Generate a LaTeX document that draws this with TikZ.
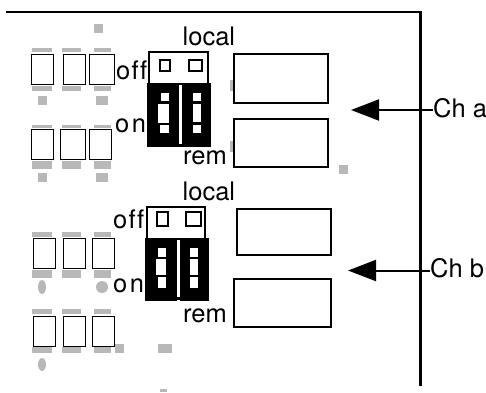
\documentclass[tikz,border=0pt]{standalone}
\usepackage{fontspec}
\setmainfont{TeX Gyre Heros}
\usetikzlibrary{arrows.meta}
\definecolor{padgray}{gray}{0.72}
\tikzset{
  lbl/.style={anchor=base west,inner sep=0pt,font=\fontsize{25.5}{29}\selectfont},
  keybox/.style={draw=black,line width=1pt,fill=white},
  bigbox/.style={draw=black,line width=2pt},
  pad/.style={fill=padgray},
  chanarrow/.style={line width=2pt,-{Triangle[length=28pt,width=21pt]}}
}
\begin{document}
\begin{tikzpicture}[x=1pt,y=-1pt]
  \useasboundingbox (0,0) rectangle (486,392);

  % case outline
  \draw[line width=2.5pt,line join=miter] (6,12) -- (420.5,12) -- (420.5,386);

  % gray pads, channel a
  \fill[pad] (94,24) rectangle (103,33);
  \foreach \xa/\xb in {32/52,62/81,94/111} {
    \fill[pad] (\xa,48) rectangle (\xb,52);
    \fill[pad] (\xa,86) rectangle (\xb,91);
    \fill[pad] (\xa,125) rectangle (\xb,128);
    \fill[pad] (\xa,161) rectangle (\xb,169);
  }
  \foreach \y in {96,173} {
    \fill[pad] (38,\y) rectangle (47,\y+9);
    \fill[pad] (96,\y) rectangle (108,\y+9);
  }
  \fill[pad] (230,80) rectangle (233,91);
  \fill[pad] (230,141) rectangle (233,152);
  \fill[pad] (339,165) rectangle (348,174);

  % gray pads, channel b
  \foreach \xa/\xb in {32/52,62/81,94/111} {
    \fill[pad] (\xa,232) rectangle (\xb,237);
    \fill[pad] (\xa,270) rectangle (\xb,278);
    \fill[pad] (\xa,309) rectangle (\xb,314);
    \fill[pad] (\xa,347) rectangle (\xb,353);
  }
  \fill[pad] (42,287) ellipse (4 and 7);
  \fill[pad] (102,287) circle (6);
  \fill[pad] (42,364.5) ellipse (4 and 6.5);
  \fill[pad] (115,344) rectangle (124,353);
  \fill[pad] (158,344) rectangle (172,353);
  \fill[pad] (160,389) rectangle (167,392);

  % key boxes
  \draw[keybox] (31,54) rectangle (53,84);
  \draw[keybox] (63,54) rectangle (85,84);
  \draw[keybox] (89.5,54) rectangle (114.5,84);
  \draw[keybox] (31,129) rectangle (53,159);
  \draw[keybox] (60.5,129) rectangle (85,159);
  \draw[keybox] (89.5,129) rectangle (111.5,159);
  \foreach \y in {238,316} {
    \draw[keybox] (33.5,\y) rectangle (55.5,\y+30);
    \draw[keybox] (63.5,\y) rectangle (85,\y+30);
    \draw[keybox] (92.5,\y) rectangle (114.5,\y+30);
  }

  % big boxes
  \draw[bigbox] (233.5,54) rectangle (328,102.5);
  \draw[bigbox] (233.5,118.5) rectangle (328,166.5);
  \draw[bigbox] (236.5,208.5) rectangle (331,255);
  \draw[bigbox] (233.5,278.5) rectangle (331,327);

  % switch a
  \draw[line width=2pt] (148.5,52) rectangle (207.5,84);
  \draw[line width=2pt] (160,60) rectangle (170,70.5);
  \draw[line width=2pt] (189,60) rectangle (202,70.5);
  \fill (147,83) rectangle (179,146.5);
  \fill (182,83) rectangle (211,146.5);
  \fill (179,144) rectangle (182,146.5);
  \fill[white] (161,93) rectangle (169,101);
  \fill[white] (158,104) rectangle (169,123);
  \fill[white] (160,125) rectangle (169,133);
  \fill[white] (193,93) rectangle (201,101);
  \fill[white] (193,104) rectangle (201,122);
  \fill[white] (193,125) rectangle (201,133);

  % switch b
  \draw[line width=2pt] (146.5,207) rectangle (205,239);
  \draw[line width=2pt] (157,212) rectangle (167.5,225.5);
  \draw[line width=2pt] (186,212) rectangle (200.5,225.5);
  \fill (145,238) rectangle (177,301);
  \fill (180,238) rectangle (209,301);
  \fill (177,297) rectangle (180,299.5);
  \fill[white] (158,248) rectangle (166,257);
  \fill[white] (156,259) rectangle (166,275);
  \fill[white] (158,277) rectangle (166,288);
  \fill[white] (190,248) rectangle (198,257);
  \fill[white] (190,259) rectangle (198,275);
  \fill[white] (190,277) rectangle (198,288);

  % labels
  \node[lbl] (locala) at (182.5,45) {local};
  \node[lbl] (offa) at (116,79) {o\kern1.3pt f\kern1.3pt f};
  \node[lbl] (ona) at (115,132) {o\kern2.6pt n};
  \node[lbl] (rema) at (183,164) {rem};
  \node[lbl] (localb) at (182.5,200) {local};
  \node[lbl] (offb) at (113,228) {o\kern1.3pt f\kern1.3pt f};
  \node[lbl] (onb) at (113,292) {o\kern2.6pt n};
  \node[lbl] (remb) at (183,322) {rem};

  % channel arrows
  \node[lbl] (cha) at (433,117) {Ch a};
  \node[lbl] (chb) at (430,277) {Ch b};
  \coordinate (tipa) at (351,110);
  \coordinate (tipb) at (348,270.5);
  \draw[chanarrow] (cha.west |- tipa) -- (tipa);
  \draw[chanarrow] (chb.west |- tipb) -- (tipb);
\end{tikzpicture}
\end{document}
